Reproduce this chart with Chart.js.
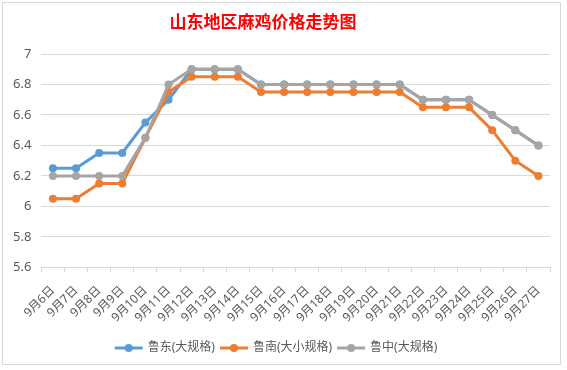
<!DOCTYPE html>
<html>
<head>
<meta charset="utf-8">
<script src="https://cdn.jsdelivr.net/npm/chart.js@4/dist/chart.umd.min.js"></script>
<style>
  html, body { margin: 0; padding: 0; background: #fff; }
  #box { position: absolute; left: 2px; top: 2px; width: 557px; height: 361px; border: 1px solid #d9d9d9; background: #fff; }
  #title { position: absolute; left: 0; top: 8px; width: 520px; text-align: center;
           font: bold 17px 'Noto Sans CJK SC', sans-serif; color: #FF0000; line-height: 20px; }
</style>
</head>
<body>
<div id="box">
  <div id="title">山东地区麻鸡价格走势图</div>
  <canvas id="myChart" width="557" height="361"></canvas>
</div>
<script>
const labels = [
    "9月6日", "9月7日", "9月8日", "9月9日", "9月10日", "9月11日",
    "9月12日", "9月13日", "9月14日", "9月15日", "9月16日", "9月17日",
    "9月18日", "9月19日", "9月20日", "9月21日", "9月22日", "9月23日",
    "9月24日", "9月25日", "9月26日", "9月27日"
]

// 鲁东(大规格)
const ludong = [6.25, 6.25, 6.35, 6.35, 6.55, 6.7, 6.9, 6.9, 6.9, 6.8, 6.8, 6.8,
    6.8, 6.8, 6.8, 6.8, 6.7, 6.7, 6.7, 6.6, 6.5, 6.4]
// 鲁南(大小规格)
const lunan = [6.05, 6.05, 6.15, 6.15, 6.45, 6.75, 6.85, 6.85, 6.85, 6.75, 6.75, 6.75,
    6.75, 6.75, 6.75, 6.75, 6.65, 6.65, 6.65, 6.5, 6.3, 6.2]
// 鲁中(大规格)
const luzhong = [6.2, 6.2, 6.2, 6.2, 6.45, 6.8, 6.9, 6.9, 6.9, 6.8, 6.8, 6.8,
    6.8, 6.8, 6.8, 6.8, 6.7, 6.7, 6.7, 6.6, 6.5, 6.4]

const yMin = 5.6
const yMax = 7
const yStep = 0.2

const txt = "#595959"
const font = "'Noto Sans', 'Noto Sans CJK SC', sans-serif"

// legend marker: short line with a dot
function marker(color) {
    const c = document.createElement('canvas');
    c.width = 30; c.height = 10;
    const g = c.getContext('2d');
    g.strokeStyle = color; g.lineWidth = 3;
    g.beginPath(); g.moveTo(1, 5); g.lineTo(29, 5); g.stroke();
    g.fillStyle = color;
    g.beginPath(); g.arc(15, 5, 4, 0, Math.PI * 2); g.fill();
    return c;
}

function series(label, data, color, order) {
    return {
        label, data, order,
        borderColor: color,
        backgroundColor: color,
        borderWidth: 3,
        pointRadius: 4,
        pointHoverRadius: 4,
        pointBackgroundColor: color,
        pointBorderWidth: 0,
        tension: 0,
        marker: marker(color)
    }
}

const data = {
    labels,
    datasets: [
        series("鲁东(大规格)", ludong, "#5B9BD5", 3),
        series("鲁南(大小规格)", lunan, "#ED7D31", 2),
        series("鲁中(大规格)", luzhong, "#A5A5A5", 1)
    ]
};

const config = {
    type: "line",
    data: data,
    options: {
        responsive: false,
        animation: false,
        layout: { padding: { left: 0, right: 10, top: 51, bottom: 0 } },
        plugins: {
            legend: {
                position: "bottom",
                labels: {
                    color: txt,
                    font: { family: font, size: 12 },
                    usePointStyle: true,
                    pointStyleWidth: 26,
                    boxHeight: 10,
                    padding: 6,
                    generateLabels: function(chart) {
                        return chart.data.datasets.map((ds, i) => ({
                            text: ds.label,
                            pointStyle: ds.marker,
                            fillStyle: ds.borderColor,
                            strokeStyle: ds.borderColor,
                            lineWidth: 0,
                            fontColor: txt,
                            datasetIndex: i,
                            hidden: false
                        }));
                    }
                }
            },
            tooltip: { enabled: false }
        },
        scales: {
            x: {
                offset: true,
                grid: { display: true, drawOnChartArea: false, drawTicks: true, tickLength: 5, color: "#d9d9d9", offset: true },
                border: { color: "#d9d9d9" },
                ticks: {
                    color: txt,
                    font: { family: font, size: 12 },
                    maxRotation: 45,
                    minRotation: 45,
                    autoSkip: false,
                    padding: 11
                }
            },
            y: {
                min: yMin,
                max: yMax,
                grid: { color: "#d9d9d9", drawTicks: false },
                border: { display: false },
                ticks: {
                    stepSize: yStep,
                    color: txt,
                    font: { family: font, size: 13 },
                    padding: 10,
                    callback: function(value) {
                        return Math.round(value * 10) / 10;
                    }
                }
            }
        }
    }
}

const myChart = new Chart(document.getElementById('myChart').getContext('2d'), config);
</script>
</body>
</html>
